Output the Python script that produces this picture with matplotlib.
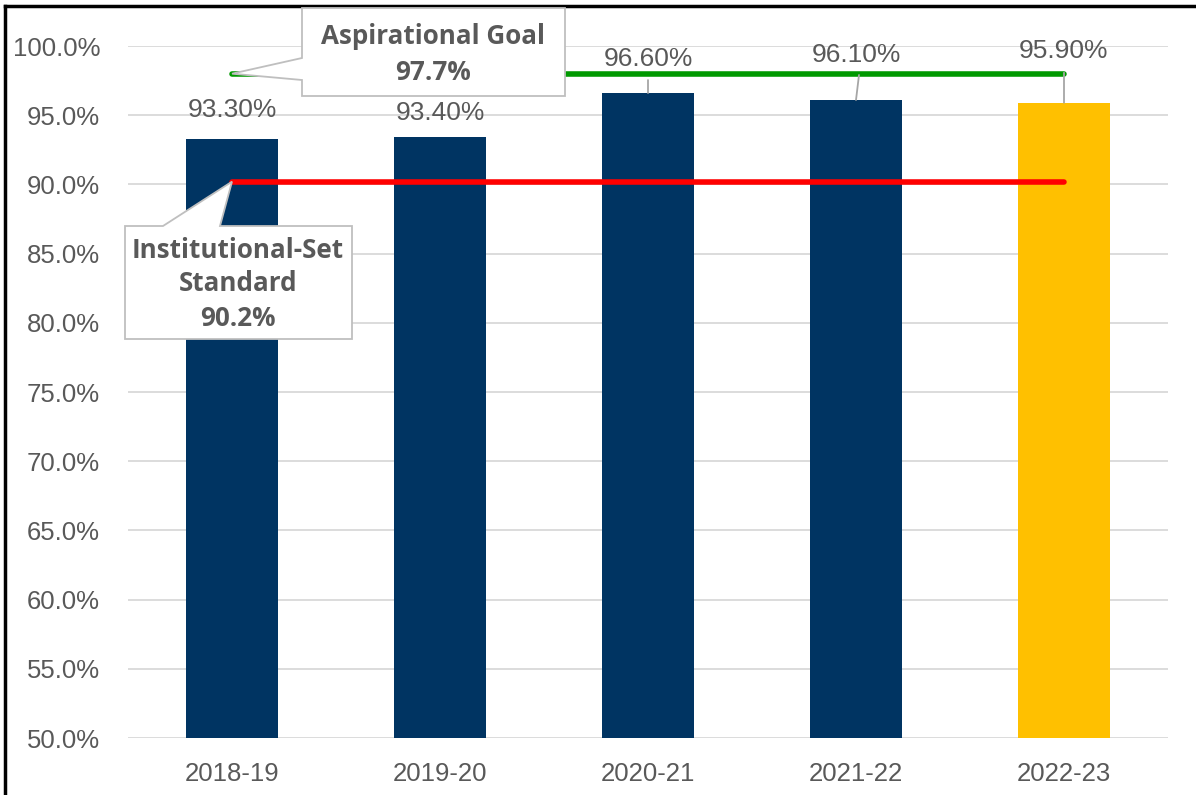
import matplotlib.pyplot as plt
from matplotlib.patches import Polygon
from matplotlib.lines import Line2D
from matplotlib.transforms import IdentityTransform

years = ["2018-19", "2019-20", "2020-21", "2021-22", "2022-23"]
rates = [93.3, 93.4, 96.6, 96.1, 95.9]
bar_colors = ["#003462", "#003462", "#003462", "#003462", "#FFC000"]
standard = [90.2, 90.2, 90.2, 90.2, 90.2]
goal_line = [98.0, 98.0, 98.0, 98.0, 98.0]
goal_value = 97.7
standard_value = 90.2

W, H = 1196, 795
GREY = "#595959"

fig = plt.figure(figsize=(W / 100, H / 100), dpi=100)
ax = fig.add_axes([128 / W, 57 / H, 1040 / W, 692 / H])

x = list(range(len(years)))
ax.bar(x, rates, width=0.44, color=bar_colors, zorder=2)
ax.plot(x, standard, color="#FF0000", lw=4, solid_capstyle="round", zorder=3)
ax.plot(x, goal_line, color="#009900", lw=4, solid_capstyle="round", zorder=3)

ax.set_xlim(-0.5, 4.5)
ax.set_ylim(50, 100)
ax.set_yticks(range(50, 101, 5))
ax.set_yticklabels([f"{v:.1f}%" for v in range(50, 101, 5)])
ax.set_xticks(x)
ax.set_xticklabels(years)
ax.grid(axis="y", color="#d9d9d9", lw=1.3, zorder=0)
ax.set_axisbelow(True)
for s in ax.spines.values():
    s.set_visible(False)
ax.tick_params(length=0, labelsize=18.5, labelcolor=GREY)
ax.tick_params(axis="y", pad=20)
ax.tick_params(axis="x", pad=17)
for lab in ax.get_xticklabels() + ax.get_yticklabels():
    lab.set_fontfamily("Liberation Sans")

# data labels, offsets in pixels above bar top
label_off = [29, 24, 34, 45, 52]
leader = [None, None, (13, 0), (25, 3), (30, 0)]
for i, v in enumerate(rates):
    ax.annotate(f"{v:.2f}%", (i, v), xytext=(0, label_off[i]), textcoords="offset pixels",
                ha="center", va="center", fontsize=19, color=GREY,
                family="Liberation Sans", zorder=5, annotation_clip=False)
    if leader[i]:
        ln, dx = leader[i]
        ax.annotate("", (i, v), xytext=(dx, ln), textcoords="offset pixels",
                    arrowprops=dict(arrowstyle="-", color="#a6a6a6", lw=1.3,
                                    shrinkA=0, shrinkB=0), annotation_clip=False)

fig.canvas.draw()


def px(xp, yp):
    return (xp, H - yp)


def tip(xi, yv):
    d = ax.transData.transform((xi, yv))
    return (d[0], d[1])


# aspirational goal callout
t = tip(0, goal_line[0])
poly = [px(302, 8), px(565, 8), px(565, 96), px(302, 96), px(302, 80), t, px(302, 58)]
fig.add_artist(Polygon(poly, closed=True, facecolor="white", edgecolor="#bfbfbf",
                       lw=1.3, transform=IdentityTransform(), zorder=6))
fig.text(433 / W, 1 - 36 / H, "Aspirational Goal", ha="center", va="center",
         fontsize=18.7, fontweight="bold", color=GREY, family="Open Sans", zorder=7)
fig.text(433 / W, 1 - 72 / H, f"{goal_value}%", ha="center", va="center",
         fontsize=18.7, fontweight="bold", color=GREY, family="Open Sans", zorder=7)

# institutional-set standard callout
t = tip(0, standard[0])
poly = [px(125, 226), px(163, 226), t, px(220, 226), px(352, 226), px(352, 339), px(125, 339)]
fig.add_artist(Polygon(poly, closed=True, facecolor="white", edgecolor="#bfbfbf",
                       lw=1.3, transform=IdentityTransform(), zorder=6))
for yy, txt in zip([250, 284, 318], ["Institutional-Set", "Standard", f"{standard_value}%"]):
    fig.text(238 / W, 1 - yy / H, txt, ha="center", va="center",
             fontsize=18.7, fontweight="bold", color=GREY, family="Open Sans", zorder=7)

# outer frame (top and left)
fig.add_artist(Line2D([5 / W, 5 / W], [0, 1 - 6 / H], color="black", lw=2.5, transform=fig.transFigure))
fig.add_artist(Line2D([5 / W, 1], [1 - 6 / H, 1 - 6 / H], color="black", lw=2.5, transform=fig.transFigure))

fig.savefig("out.png", dpi=100)
